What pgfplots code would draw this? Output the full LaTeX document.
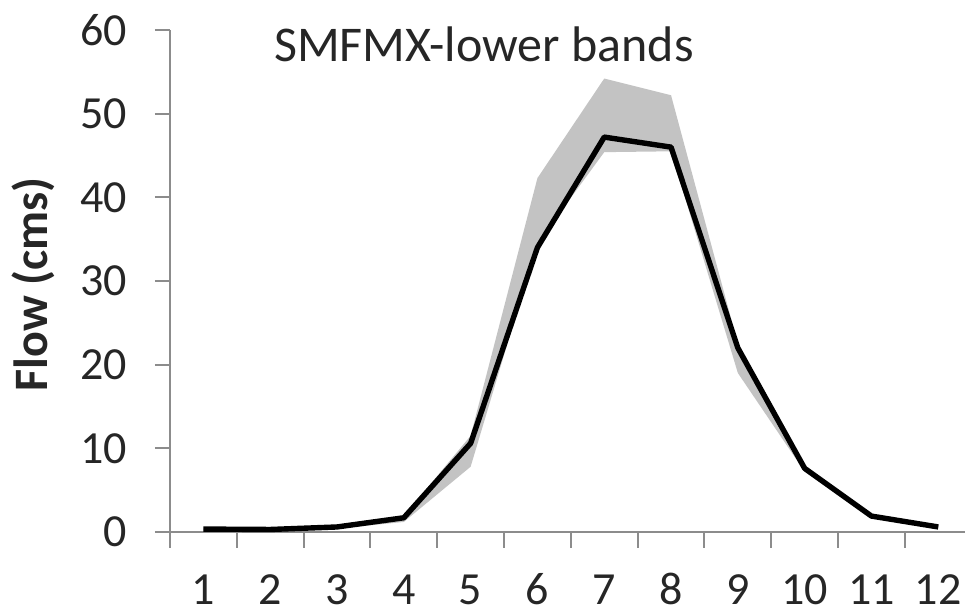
\documentclass[border=0pt]{standalone}
\usepackage{fontspec}
\setmainfont{Carlito}
\usepackage{pgfplots}
\pgfplotsset{compat=1.18}
\definecolor{axgray}{HTML}{8C8C8C}
\definecolor{bandgray}{HTML}{C3C3C3}
\begin{document}
\begin{tikzpicture}
\begin{axis}[
  at={(85pt,40.5pt)}, anchor=south west,
  scale only axis, width=397.5pt, height=251pt,
  xmin=0.5, xmax=12.4, ymin=0, ymax=60,
  axis x line*=bottom, axis y line*=left,
  axis line style={axgray, line width=1pt, -},
  xtick={1,...,12}, ytick={0,10,...,60},
  major x tick style={draw=none},
  extra x ticks={0.5,1.5,...,11.5},
  extra x tick labels={\empty},
  extra x tick style={xticklabels={}, major tick length=8pt, major x tick style={draw=axgray, line width=1pt}},
  tick align=outside,
  major tick length=7.5pt,
  tick style={axgray, line width=1pt},
  every tick label/.append style={font=\fontsize{23}{27}\selectfont, text=black!85},
  xticklabel style={text height=15pt, text depth=0pt, inner sep=0pt},
  /pgf/number format/assume math mode=true,
  xticklabel shift=13.5pt,
  yticklabel shift=10.5pt,
  clip=false,
]
\addplot[fill=bandgray, draw=none] coordinates {
(1,0.4) (2,0.4) (3,0.7) (4,1.9) (5,11.5) (6,42.3) (7,54.2) (8,52.2) (9,22.5) (10,8.0) (11,2.0) (12,0.7)
(12,0.5) (11,1.7) (10,7.2) (9,19.0) (8,45.5) (7,45.4) (6,34.5) (5,7.8) (4,1.2) (3,0.4) (2,0.2) (1,0.2)} -- cycle;
\addplot[black, line width=2.7pt, line join=round] coordinates {
(1,0.35) (2,0.3) (3,0.6) (4,1.7) (5,10.6) (6,34.0) (7,47.2) (8,46.0) (9,22.0) (10,7.6) (11,1.9) (12,0.6)};
\node[font=\fontsize{25}{29}\selectfont, text=black!85] at (axis cs:5.2,58.3) {SMFMX-lower bands};
\node[rotate=90, font=\fontsize{24}{28}\selectfont\bfseries, text=black!85] at (axis cs:-1.55,29.6) {Flow (cms)};
\end{axis}
\pgfresetboundingbox
\path[use as bounding box] (0,0) rectangle (482.5pt,306.5pt);
\end{tikzpicture}
\end{document}
